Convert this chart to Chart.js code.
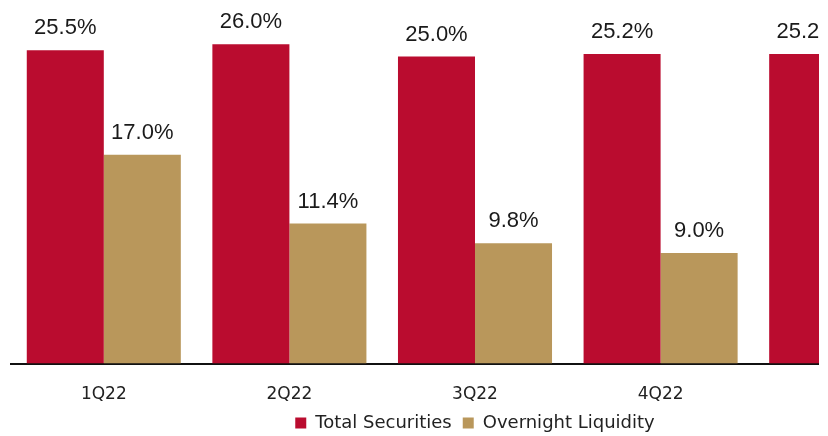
<!DOCTYPE html>
<html>
<head>
<meta charset="utf-8">
<script src="https://cdn.jsdelivr.net/npm/chart.js@4"></script>
<style>
    html, body { margin: 0; padding: 0; background: #fff; }
    #wrap { width: 819px; height: 436px; overflow: hidden; position: relative; }
    #LiquidityChart { display: block; }
</style>
</head>
<body>
<div id="wrap">
    <canvas id="LiquidityChart" width="950" height="436"></canvas>
</div>
<script>
    // quarterly liquidity ratios (%)
    var Quarters = ['1Q22', '2Q22', '3Q22', '4Q22', '1Q23'];
    var TotalSecurities = [25.5, 26.0, 25.0, 25.2, 25.2];
    var OvernightLiquidity = [17.0, 11.4, 9.8, 9.0, null];

    var RedColor = '#BA0C2F';
    var GoldColor = '#B9975B';

    // writes the value above each bar
    var BarValueLabels = {
        id: 'barValueLabels',
        afterDatasetsDraw: function (chart) {
            var ctx = chart.ctx;
            ctx.save();
            ctx.font = '22px "Liberation Sans", Arial, sans-serif';
            ctx.fillStyle = '#1a1a1a';
            ctx.textAlign = 'center';
            ctx.textBaseline = 'alphabetic';
            chart.data.datasets.forEach(function (ds, i) {
                chart.getDatasetMeta(i).data.forEach(function (bar, j) {
                    var v = ds.data[j];
                    if (v == null) return;
                    ctx.fillText(v.toFixed(1) + '%', bar.x, bar.y - 16);
                });
            });
            ctx.restore();
        }
    };

    var ctx = document.getElementById('LiquidityChart').getContext('2d');
    window.MyLiquidityChart = new Chart(ctx, {
        type: 'bar',
        data: {
            labels: Quarters,
            datasets: [{
                label: 'Total Securities',
                data: TotalSecurities,
                backgroundColor: RedColor
            }, {
                label: 'Overnight Liquidity',
                data: OvernightLiquidity,
                backgroundColor: GoldColor
            }]
        },
        options: {
            responsive: false,
            animation: false,
            layout: { padding: { left: 11, right: 11, top: 0, bottom: -6 } },
            datasets: {
                bar: { categoryPercentage: 0.83, barPercentage: 1.0 }
            },
            scales: {
                x: {
                    grid: { display: false },
                    border: { display: true, color: '#111', width: 2 },
                    ticks: {
                        color: '#222',
                        padding: 13,
                        font: { family: '"DejaVu Sans", sans-serif', size: 17 }
                    },
                    // tighter band between the axis line and the legend
                    afterFit: function (scale) {
                        scale.height -= 15;
                    }
                },
                y: {
                    display: false,
                    min: 0,
                    max: 29.6
                }
            },
            plugins: {
                legend: {
                    position: 'bottom',
                    labels: {
                        color: '#222',
                        boxWidth: 11,
                        boxHeight: 11,
                        padding: 11,
                        font: { family: '"DejaVu Sans", sans-serif', size: 18 }
                    }
                },
                tooltip: { enabled: false }
            }
        },
        plugins: [BarValueLabels]
    });
</script>
</body>
</html>
